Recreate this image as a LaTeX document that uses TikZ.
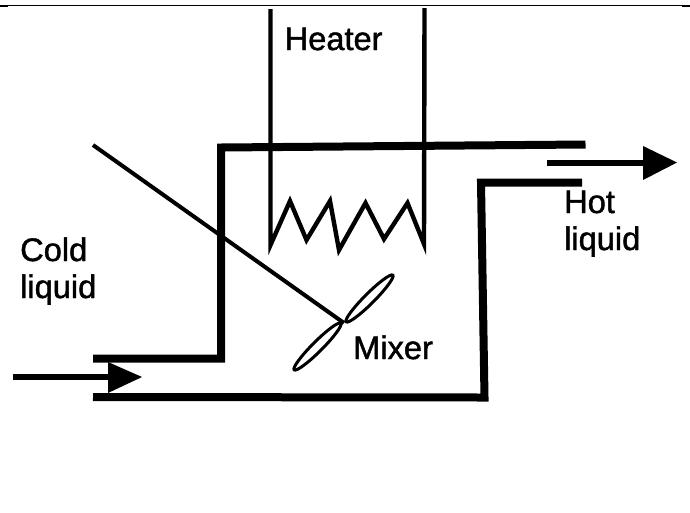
\documentclass[tikz,border=0pt]{standalone}
\usepackage{fontspec}
\newfontfamily\lblfont[FakeBold=1.4]{Liberation Sans}
\begin{document}
\begin{tikzpicture}[x=1pt,y=-1pt,
  pipe/.style={line width=8pt,line cap=butt,miter limit=10},
  wire/.style={line width=4.4pt,line cap=butt,line join=miter,miter limit=10},
  flow/.style={line width=6pt},
  head/.style={fill=black,draw=none},
  lbl/.style={inner sep=0pt,anchor=base west,font=\lblfont\fontsize{32.6}{36}\selectfont}]
\useasboundingbox (0,0) rectangle (690,512);
% top rule
\draw[line width=1.1pt] (0,5.5) -- (690,5.5);
\draw[line width=2pt] (0,6) -- (8,6);
\draw[line width=2pt] (682,6) -- (690,6);
% vessel
\draw[pipe] (93,358.5) -- (221,358.5) -- (221,147.5) -- (585.5,144.5);
\draw[pipe] (93,397) -- (484.5,397.5) -- (481,182.5) -- (582,182.5);
% heater
\draw[wire] (270.5,9) -- (270.5,245) -- (290,201) -- (306.5,240) -- (330,201) -- (339,250) -- (365.5,203) -- (384,239) -- (407.5,203) -- (424,244) -- (424.5,8);
% mixer
\draw[line width=4pt] (93,145) -- (344,323);
\draw[line width=3pt,rotate around={45:(369.5,298.5)}] (369.5,298.5) ellipse [x radius=33,y radius=5];
\draw[line width=3pt,rotate around={45:(317.5,346.5)}] (317.5,346.5) ellipse [x radius=33,y radius=5];
% arrows
\coordinate (inA) at (13,377);
\coordinate (inB) at (109,377);
\draw[flow] (inA) -- (inB);
\fill[head] (108,362) -- (142,377) -- (108,393) -- cycle;
\coordinate (outA) at (547,162.5);
\coordinate (outB) at (644,162.5);
\draw[flow] (outA) -- (outB);
\fill[head] (643,146) -- (677,162.5) -- (643,180) -- cycle;
% labels
\node[lbl] (heater) at (284.5,50) {Heater};
\node[lbl] (cold) at (20,261) {Cold};
\node[lbl] (cliq) at (20,298) {liquid};
\node[lbl] (hot) at (564,213) {Hot};
\node[lbl] (hliq) at (564,250) {liquid};
\node[lbl] (mixer) at (353,359) {Mixer};
\end{tikzpicture}
\end{document}
